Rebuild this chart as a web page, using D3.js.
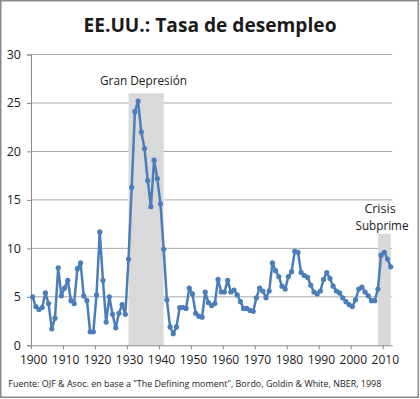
<!DOCTYPE html>
<html><head><meta charset="utf-8">
<script src="https://cdn.jsdelivr.net/npm/d3@7"></script>
<style>body{margin:0;background:#fff}svg{display:block}text{font-family:"Open Sans","Noto Sans",sans-serif;fill:#1a1a1a}</style>
</head><body>
<script>
const years = d3.range(1900, 2013);
const rates = [5.0,4.0,3.7,3.9,5.4,4.3,1.7,2.8,8.0,5.1,
5.9,6.7,4.6,4.3,7.9,8.5,5.1,4.6,1.4,1.4,
5.2,11.7,6.7,2.4,5.0,3.2,1.8,3.3,4.2,3.2,
8.9,16.3,24.1,25.2,22.0,20.3,17.0,14.3,19.1,17.2,
14.6,9.9,4.7,1.9,1.2,1.9,3.9,3.9,3.8,5.9,
5.3,3.3,3.0,2.9,5.5,4.4,4.1,4.3,6.8,5.5,
5.5,6.7,5.5,5.7,5.2,4.5,3.8,3.8,3.6,3.5,
4.9,5.9,5.6,4.9,5.6,8.5,7.7,7.1,6.1,5.8,
7.1,7.6,9.7,9.6,7.5,7.2,7.0,6.2,5.5,5.3,
5.6,6.8,7.5,6.9,6.1,5.6,5.4,4.9,4.5,4.2,
4.0,4.7,5.8,6.0,5.5,5.1,4.6,4.6,5.8,9.3,
9.6,8.9,8.1];
const depressionYears = [1930, 1941];
const depressionLevel = 26;
const subprimeYears = [2008, 2012];
const subprimeLevel = 11.5;
const yTicks = [0,5,10,15,20,25,30];
const xTickYears = d3.range(1900, 2011, 10);
const title = "EE.UU.: Tasa de desempleo";
const source = "Fuente: OJF & Asoc. en base a \"The Defining moment\", Bordo, Goldin & White, NBER, 1998";

const W = 420, H = 399;
const svg = d3.select("body").append("svg").attr("width", W).attr("height", H);
svg.append("rect").attr("x",0.75).attr("y",0.75).attr("width",417.5).attr("height",396.5)
  .attr("fill","#fff").attr("stroke","#8a8a8a").attr("stroke-width",1.5);

const x = d3.scaleLinear().domain([1899.5, 2012.5]).range([31, 392.3]);
const y = d3.scaleLinear().domain([0, 30]).range([345.3, 54.5]);
const half = (x(1) - x(0)) / 2;

// gridlines
svg.append("g").selectAll("line").data(yTicks.filter(d => d > 0)).join("line")
  .attr("x1", x(1899.5)).attr("x2", x(2012.5))
  .attr("y1", d => y(d)).attr("y2", d => y(d))
  .attr("stroke", "#a8a8a8").attr("stroke-width", 1);

// shaded periods
const area = d3.area().x(d => x(d[0])).y0(y(0)).y1(d => y(d[1]));
[[depressionYears, depressionLevel], [subprimeYears, subprimeLevel]].forEach(([yrs, lvl]) => {
  svg.append("path").datum(d3.range(yrs[0], yrs[1] + 1).map(v => [v, lvl]))
    .attr("d", area).attr("fill", "#d9d9d9");
});

// y axis
const yAxis = svg.append("g").attr("transform", `translate(${x(1899.5)},0)`)
  .call(d3.axisLeft(y).tickValues(yTicks).tickSize(4).tickPadding(6));
yAxis.select(".domain").attr("stroke", "#8a8a8a");
yAxis.selectAll(".tick line").attr("stroke", "#8a8a8a");
yAxis.selectAll("text").attr("font-size", 12.5).attr("fill", "#1a1a1a")
  .attr("font-family", "'Open Sans','Noto Sans',sans-serif");

// x axis
const xAxis = svg.append("g").attr("transform", `translate(0,${y(0)})`)
  .call(d3.axisBottom(x).tickValues(xTickYears).tickFormat(d3.format("d")).tickSize(4).tickSizeOuter(0).tickPadding(6));
xAxis.select(".domain").attr("stroke", "#8a8a8a");
xAxis.selectAll(".tick line").attr("stroke", "#8a8a8a").attr("x1", -half).attr("x2", -half);
xAxis.selectAll("text").attr("font-size", 12).attr("fill", "#1a1a1a").attr("dx", 0.5)
  .attr("font-family", "'Open Sans','Noto Sans',sans-serif");

// line
const data = years.map((yr, i) => [yr, rates[i]]);
svg.append("path").datum(data)
  .attr("d", d3.line().x(d => x(d[0])).y(d => y(d[1])))
  .attr("fill", "none").attr("stroke", "#4a7ebb").attr("stroke-width", 2.5)
  .attr("stroke-linejoin", "round");
svg.append("g").selectAll("circle").data(data).join("circle")
  .attr("cx", d => x(d[0])).attr("cy", d => y(d[1])).attr("r", 2.6)
  .attr("fill", "#4a7ebb");

// texts
svg.append("text").attr("x", 210).attr("y", 31.5).attr("text-anchor", "middle")
  .attr("font-size", 20).attr("font-weight", "bold").attr("fill", "#000")
  .attr("textLength", 253).attr("lengthAdjust", "spacingAndGlyphs").text(title);
svg.append("text").attr("x", 100).attr("y", 85).attr("font-size", 12.5)
  .attr("textLength", 87).attr("lengthAdjust", "spacingAndGlyphs").text("Gran Depresión");
svg.append("text").attr("x", 380).attr("y", 212.5).attr("text-anchor", "middle").attr("font-size", 12.5).text("Crisis");
svg.append("text").attr("x", 382).attr("y", 229.5).attr("text-anchor", "middle").attr("font-size", 12.5)
  .attr("textLength", 53).attr("lengthAdjust", "spacingAndGlyphs").text("Subprime");
svg.append("text").attr("x", 8.3).attr("y", 386.5).attr("font-size", 9)
  .attr("textLength", 373).attr("lengthAdjust", "spacingAndGlyphs").text(source);
</script>
</body></html>
